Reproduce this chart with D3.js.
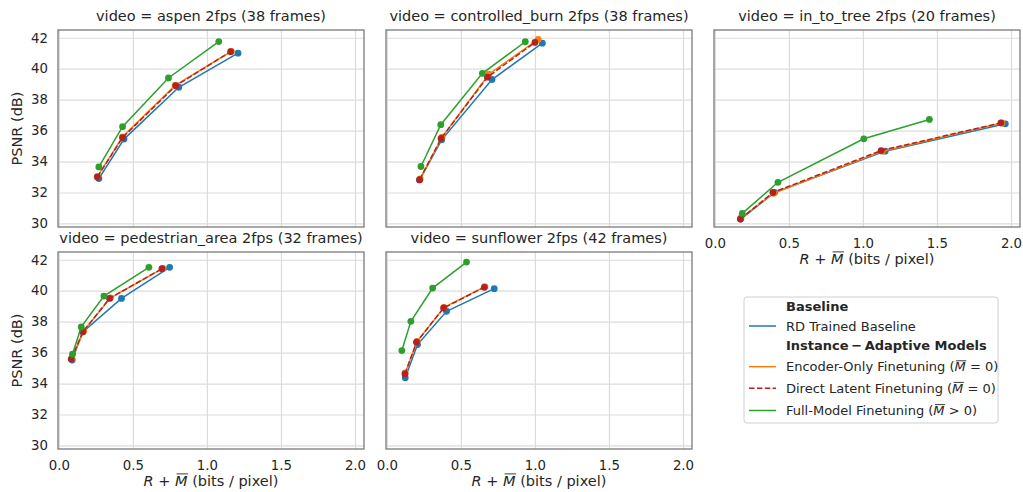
<!DOCTYPE html>
<html>
<head>
<meta charset="utf-8">
<script src="https://cdn.jsdelivr.net/npm/d3@7"></script>
<style>
    body { margin: 0; background: #fff; }
    text { font-family: "DejaVu Sans", sans-serif; fill: #262626; }
</style>
</head>
<body>
<svg width="1023" height="492"></svg>
<script>
/*global d3*/
// facet titles, one per video
var videoTitles = [
    'video = aspen 2fps (38 frames)',
    'video = controlled_burn 2fps (38 frames)',
    'video = in_to_tree 2fps (20 frames)',
    'video = pedestrian_area 2fps (32 frames)',
    'video = sunflower 2fps (42 frames)'
];

var xTicks = [0, 0.5, 1.0, 1.5, 2.0];
var yTicks = [30, 32, 34, 36, 38, 40, 42];

// [bits per pixel, PSNR] per video, same order as videoTitles
var rdBaseline = [
    [[0.27, 32.9], [0.44, 35.45], [0.81, 38.8], [1.21, 41.0]],
    [[0.22, 32.8], [0.37, 35.4], [0.71, 39.3], [1.05, 41.65]],
    [[0.174, 30.28], [0.403, 32.0], [1.15, 34.67], [1.962, 36.44]],
    [[0.09, 35.52], [0.162, 37.34], [0.423, 39.5], [0.748, 41.51]],
    [[0.124, 34.37], [0.207, 36.52], [0.403, 38.67], [0.725, 40.13]]
];
var encoderOnly = [
    [[0.26, 33.02], [0.43, 35.6], [0.785, 38.92], [1.165, 41.12]],
    [[0.225, 32.88], [0.373, 35.58], [0.688, 39.64], [1.022, 41.89]],
    [[0.176, 30.35], [0.397, 31.95], [1.13, 34.67], [1.939, 36.49]],
    [[0.088, 35.63], [0.167, 37.4], [0.349, 39.54], [0.703, 41.44]],
    [[0.124, 34.69], [0.205, 36.73], [0.387, 38.92], [0.662, 40.26]]
];
var directLatent = [
    [[0.26, 33.0], [0.43, 35.55], [0.79, 38.9], [1.16, 41.1]],
    [[0.221, 32.83], [0.366, 35.49], [0.679, 39.45], [1.0, 41.7]],
    [[0.172, 30.28], [0.392, 32.0], [1.123, 34.71], [1.932, 36.5]],
    [[0.083, 35.58], [0.162, 37.34], [0.342, 39.5], [0.696, 41.42]],
    [[0.122, 34.62], [0.2, 36.67], [0.383, 38.88], [0.658, 40.22]]
];
var fullModel = [
    [[0.27, 33.65], [0.43, 36.25], [0.74, 39.4], [1.08, 41.75]],
    [[0.23, 33.68], [0.364, 36.38], [0.645, 39.7], [0.935, 41.74]],
    [[0.185, 30.65], [0.426, 32.66], [1.006, 35.47], [1.449, 36.72]],
    [[0.092, 35.9], [0.151, 37.66], [0.304, 39.65], [0.608, 41.51]],
    [[0.101, 36.13], [0.162, 38.02], [0.309, 40.17], [0.538, 41.85]]
];

(function () {
    'use strict';

    var svg = d3.select('svg');
    var panelW = 306, panelH = 197;
    var colX = [58, 386, 714], rowY = [30, 252];

    var series = [
        { data: rdBaseline, color: '#1f77b4', dash: null },
        { data: encoderOnly, color: '#ff7f0e', dash: null },
        { data: directLatent, color: '#b22222', dash: '5.5,2.4' },
        { data: fullModel, color: '#2ca02c', dash: null }
    ];

    var x = d3.scaleLinear().domain([-0.006, 2.061]).range([0, panelW]);
    var y = d3.scaleLinear().domain([29.77, 42.5]).range([panelH, 0]);
    var line = d3.line()
        .x(function (d) { return x(d[0]); })
        .y(function (d) { return y(d[1]); });

    // bar over the M glyph (char index idx), drawn by hand
    function overline(parent, textSel, idx, baseY, rise) {
        var ext = textSel.node().getExtentOfChar(idx);
        parent.append('line')
            .attr('x1', ext.x + 1.5).attr('x2', ext.x + ext.width + 0.5)
            .attr('y1', baseY - rise).attr('y2', baseY - rise)
            .attr('stroke', '#262626').attr('stroke-width', 0.9);
    }

    function mathLabel(sel) {
        sel.append('tspan').style('font-style', 'italic').text('R');
        sel.append('tspan').text(' + ');
        sel.append('tspan').style('font-style', 'italic').text('M');
        sel.append('tspan').text(' (bits / pixel)');
    }

    videoTitles.forEach(function (title, i) {
        var col = i < 3 ? i : i - 3, row = i < 3 ? 0 : 1;
        var g = svg.append('g')
            .attr('transform', 'translate(' + colX[col] + ',' + rowY[row] + ')');
        var showX = row === 1 || col === 2, showY = col === 0;

        g.append('g').attr('class', 'grid')
            .call(d3.axisBottom(x).tickValues(xTicks).tickSize(panelH).tickFormat(''))
            .call(function (a) { a.select('.domain').remove(); })
            .selectAll('line').attr('stroke', '#dcdcdc').attr('stroke-width', 1.2);
        g.append('g').attr('class', 'grid')
            .call(d3.axisLeft(y).tickValues(yTicks).tickSize(-panelW).tickFormat(''))
            .call(function (a) { a.select('.domain').remove(); })
            .selectAll('line').attr('stroke', '#dcdcdc').attr('stroke-width', 1.2);

        if (showX) {
            var ax = g.append('g').attr('transform', 'translate(0,' + panelH + ')')
                .call(d3.axisBottom(x).tickValues(xTicks).tickSize(0).tickPadding(11.5)
                    .tickFormat(d3.format('.1f')));
            ax.select('.domain').remove();
            ax.selectAll('text').style('font-size', '13.3px')
                .style('font-family', '"DejaVu Sans"').attr('fill', '#262626');
            var xl = g.append('text')
                .attr('x', panelW / 2).attr('y', panelH + 36.5)
                .attr('text-anchor', 'middle').style('font-size', '14.5px')
                .call(mathLabel);
            overline(g, xl, 4, panelH + 36.5, 11.6);
        }
        if (showY) {
            var ay = g.append('g')
                .call(d3.axisLeft(y).tickValues(yTicks).tickSize(0).tickPadding(10));
            ay.select('.domain').remove();
            ay.selectAll('text').style('font-size', '13.3px')
                .style('font-family', '"DejaVu Sans"').attr('fill', '#262626');
            g.append('text')
                .attr('transform', 'translate(-36,' + panelH / 2 + ') rotate(-90)')
                .attr('text-anchor', 'middle').style('font-size', '14.5px')
                .text('PSNR (dB)');
        }

        series.forEach(function (s) {
            g.append('path')
                .datum(s.data[i])
                .attr('d', line)
                .attr('fill', 'none')
                .attr('stroke', s.color)
                .attr('stroke-width', 1.5)
                .attr('stroke-dasharray', s.dash);
            g.selectAll(null)
                .data(s.data[i])
                .enter().append('circle')
                .attr('cx', function (d) { return x(d[0]); })
                .attr('cy', function (d) { return y(d[1]); })
                .attr('r', 3.4)
                .attr('fill', s.color);
        });

        g.append('rect')
            .attr('width', panelW).attr('height', panelH)
            .attr('fill', 'none').attr('stroke', '#7a7a7a').attr('stroke-width', 1.3);

        g.append('text')
            .attr('x', panelW / 2).attr('y', -9)
            .attr('text-anchor', 'middle').style('font-size', '14.5px')
            .text(title);
    });

    // legend
    var leg = svg.append('g').attr('transform', 'translate(744,297)');
    leg.append('rect')
        .attr('width', 254).attr('height', 126).attr('rx', 3)
        .attr('fill', '#fff').attr('stroke', '#d0d0d0');

    var entries = [
        { label: 'Baseline', bold: true, y: 9.7 },
        { label: 'RD Trained Baseline', s: series[0], y: 29 },
        { label: 'Instance\u2009\u2212\u2009Adaptive Models', bold: true, y: 48.3 },
        { label: 'Encoder-Only Finetuning (', m: '= 0)', s: series[1], y: 69.7 },
        { label: 'Direct Latent Finetuning (', m: '= 0)', s: series[2], y: 91.3 },
        { label: 'Full-Model Finetuning (', m: '> 0)', s: series[3], y: 113.5 }
    ];

    entries.forEach(function (e) {
        if (e.s) {
            leg.append('line')
                .attr('x1', 5).attr('x2', 32)
                .attr('y1', e.y).attr('y2', e.y)
                .attr('stroke', e.s.color).attr('stroke-width', 1.5)
                .attr('stroke-dasharray', e.s.dash);
        }
        var t = leg.append('text')
            .attr('x', 42).attr('y', e.y + 4.7)
            .style('font-size', '13px')
            .style('font-weight', e.bold ? 'bold' : null);
        t.append('tspan').text(e.label);
        if (e.m) {
            t.append('tspan').style('font-style', 'italic').text('M');
            t.append('tspan').text(' ' + e.m);
            overline(leg, t, e.label.length, e.y + 4.7, 10.6);
        }
    });
}());
</script>
</body>
</html>
